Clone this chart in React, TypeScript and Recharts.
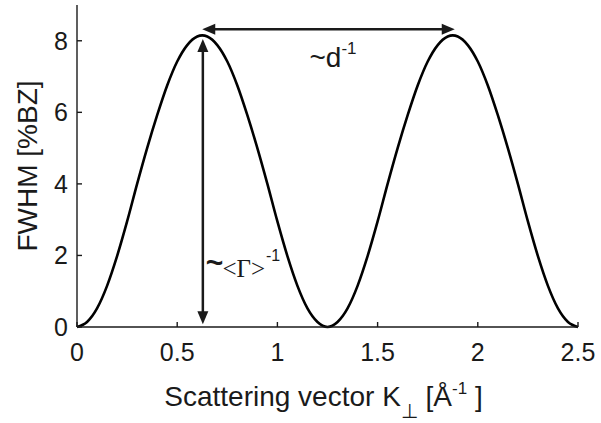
import React from "react";
import { LineChart, Line, XAxis, YAxis, ReferenceLine } from "recharts";

// scattering vector K (1/Å) and peak width FWHM (%BZ)
const kValues = [
  0, 0.05, 0.1, 0.15, 0.2, 0.25, 0.3, 0.35, 0.4, 0.45, 0.5, 0.55, 0.6, 0.625,
  0.65, 0.7, 0.75, 0.8, 0.85, 0.9, 0.95, 1, 1.05, 1.1, 1.15, 1.2, 1.25, 1.3,
  1.35, 1.4, 1.45, 1.5, 1.55, 1.6, 1.65, 1.7, 1.75, 1.8, 1.85, 1.875, 1.9,
  1.95, 2, 2.05, 2.1, 2.15, 2.2, 2.25, 2.3, 2.35, 2.4, 2.45, 2.5,
];
const fwhmValues = [
  0, 0.14, 0.52, 1.15, 1.98, 2.95, 4.0, 5.0, 5.92, 6.75, 7.42, 7.88, 8.12, 8.15,
  8.12, 7.88, 7.42, 6.75, 5.92, 5.0, 4.0, 2.95, 1.98, 1.15, 0.52, 0.14, 0, 0.14,
  0.52, 1.15, 1.98, 2.95, 4.0, 5.0, 5.92, 6.75, 7.42, 7.88, 8.12, 8.15, 8.12,
  7.88, 7.42, 6.75, 5.92, 5.0, 4.0, 2.95, 1.98, 1.15, 0.52, 0.14, 0,
];

const xTicks = [0, 0.5, 1, 1.5, 2, 2.5];
const yTicks = [0, 2, 4, 6, 8];

// period arrow between the two maxima, and height arrow under the first one
const periodArrowK = [0.625, 1.885];
const periodArrowLevel = 8.32;
const heightArrowK = 0.628;
const heightArrowLevels = [0.08, 8.05];

const data = kValues.map((k, i) => ({ k, fwhm: fwhmValues[i] }));

const FONT = "'Liberation Sans', Arial, Helvetica, sans-serif";
const SERIF = "'Liberation Serif', 'Times New Roman', serif";
const INK = "#1a1a1a";

const arrowPath = (x1: number, y1: number, x2: number, y2: number) => {
  const len = 13;
  const half = 5.5;
  const d = Math.hypot(x2 - x1, y2 - y1) || 1;
  const ux = (x2 - x1) / d;
  const uy = (y2 - y1) / d;
  const px = -uy;
  const py = ux;
  const head = (tx: number, ty: number, s: number) => {
    const bx = tx - s * ux * len;
    const by = ty - s * uy * len;
    return `${tx},${ty} ${bx + px * half},${by + py * half} ${bx - px * half},${by - py * half}`;
  };
  return {
    line: [x1 + ux * (len - 2), y1 + uy * (len - 2), x2 - ux * (len - 2), y2 - uy * (len - 2)],
    start: head(x1, y1, -1),
    end: head(x2, y2, 1),
  };
};

const PeriodArrow = (props: any) => {
  const { x1, y1, x2, y2 } = props;
  const a = arrowPath(x1, y1, x2, y2);
  const mid = (x1 + x2) / 2;
  return (
    <g>
      <line x1={a.line[0]} y1={a.line[1]} x2={a.line[2]} y2={a.line[3]} stroke={INK} strokeWidth={2.5} />
      <polygon points={a.start} fill={INK} />
      <polygon points={a.end} fill={INK} />
      <text x={mid - 19} y={y1 + 38} fontFamily={FONT} fontSize={28} fill={INK}>
        ~d
        <tspan dy={-13} fontSize={17}>-1</tspan>
      </text>
    </g>
  );
};

const HeightArrow = (props: any) => {
  const { x1, y1, x2, y2 } = props;
  // draw top-to-bottom regardless of segment order
  const top = Math.min(y1, y2);
  const bottom = Math.max(y1, y2);
  const a = arrowPath(x1, top, x2, bottom);
  return (
    <g>
      <line x1={a.line[0]} y1={a.line[1]} x2={a.line[2]} y2={a.line[3]} stroke={INK} strokeWidth={2.5} />
      <polygon points={a.start} fill={INK} />
      <polygon points={a.end} fill={INK} />
      <text x={x1 + 3} y={bottom - 51} fontFamily={FONT} fontSize={30} fill={INK}>
        <tspan fontWeight="bold">~</tspan>
        <tspan dx={-1} dy={4} fontFamily={SERIF} fontSize={25}>
          {"<Γ>"}
        </tspan>
        <tspan dx={1} dy={-16} fontSize={16}>
          -1
        </tspan>
      </text>
    </g>
  );
};

const XLabel = (props: any) => {
  const { viewBox } = props;
  const cx = viewBox.x + viewBox.width / 2 - 4;
  return (
    <text x={cx} y={406} textAnchor="middle" fontFamily={FONT} fontSize={28} fill={INK}>
      Scattering vector K
      <tspan dy={12} fontSize={20}>⊥</tspan>
      <tspan dy={-12}> [Å</tspan>
      <tspan dy={-12} fontSize={17}>-1</tspan>
      <tspan dy={12}> ]</tspan>
    </text>
  );
};

const YLabel = (props: any) => {
  const { viewBox } = props;
  const cy = viewBox.y + viewBox.height / 2;
  return (
    <text
      x={27}
      y={cy}
      transform={`rotate(-90, 27, ${cy})`}
      textAnchor="middle"
      dominantBaseline="central"
      fontFamily={FONT}
      fontSize={28}
      fill={INK}
    >
      FWHM [%BZ]
    </text>
  );
};

const tickStyle = { fontFamily: FONT, fontSize: 25, fill: INK };
const axisLine = { stroke: INK, strokeWidth: 1.4 };

export default function App() {
  return (
    <div style={{ position: "absolute", left: 0, top: 0, background: "#fff" }}>
      <LineChart width={601} height={423} data={data} margin={{ top: 5, right: 23, bottom: 36, left: 17 }}>
        <XAxis
          dataKey="k"
          type="number"
          domain={[0, 2.5]}
          ticks={xTicks}
          tick={tickStyle}
          tickSize={-5}
          tickMargin={21}
          axisLine={axisLine}
          tickLine={axisLine}
          height={60}
          label={<XLabel />}
        />
        <XAxis
          xAxisId="top"
          dataKey="k"
          type="number"
          orientation="top"
          domain={[0, 2.5]}
          ticks={xTicks}
          tick={false}
          tickSize={-5}
          axisLine={axisLine}
          tickLine={axisLine}
          height={0}
        />
        <YAxis
          type="number"
          domain={[0, 9]}
          ticks={yTicks}
          tick={tickStyle}
          tickSize={-5}
          tickMargin={14}
          axisLine={axisLine}
          tickLine={axisLine}
          width={60}
          label={<YLabel />}
        />
        <YAxis
          yAxisId="right"
          type="number"
          orientation="right"
          domain={[0, 9]}
          ticks={yTicks}
          tick={false}
          tickSize={-5}
          axisLine={axisLine}
          tickLine={axisLine}
          width={0}
        />
        <Line
          type="monotone"
          dataKey="fwhm"
          stroke="#000"
          strokeWidth={2.6}
          dot={false}
          activeDot={false}
          isAnimationActive={false}
        />
        <ReferenceLine
          segment={[
            { x: periodArrowK[0], y: periodArrowLevel },
            { x: periodArrowK[1], y: periodArrowLevel },
          ]}
          shape={(p: any) => <PeriodArrow {...p} />}
        />
        <ReferenceLine
          segment={[
            { x: heightArrowK, y: heightArrowLevels[1] },
            { x: heightArrowK, y: heightArrowLevels[0] },
          ]}
          shape={(p: any) => <HeightArrow {...p} />}
        />
      </LineChart>
    </div>
  );
}
